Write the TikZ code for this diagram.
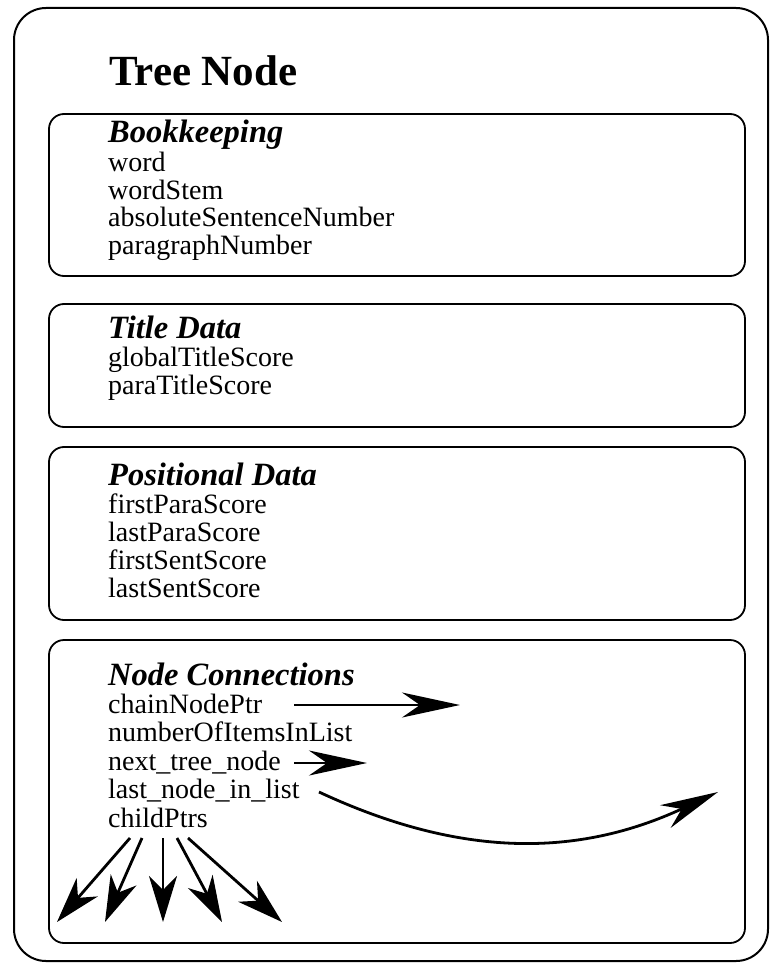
\documentclass[tikz,border=0pt]{standalone}
\usepackage{fontspec}
\setmainfont{Liberation Serif}
\usetikzlibrary{arrows.meta}
\begin{document}
\begin{tikzpicture}[x=1pt,y=-1pt,
  frame/.style={draw, line width=2pt, rounded corners=32pt},
  panel/.style={draw, line width=1.8pt, rounded corners=15pt},
  title/.style={anchor=base west, inner sep=0pt, font=\fontsize{43}{43}\selectfont\bfseries},
  heading/.style={anchor=base west, inner sep=0pt, font=\fontsize{32.5}{32.5}\selectfont\bfseries\itshape},
  field/.style={anchor=base west, inner sep=0pt, font=\fontsize{28}{28}\selectfont},
  ptr/.style={line width=2.8pt, -{Stealth[length=58pt,width=25pt,inset=18pt]}},
  child/.style={line width=2.8pt, -{Stealth[length=46pt,width=28pt,inset=14pt]}},
]
\useasboundingbox (0,0) rectangle (770,965);

% outer record
\draw[frame] (14,8) rectangle (768,961);
\node[title] (tn) at (109,86) {Tree Node};

% field groups
\draw[panel] (49,114) rectangle (745,276);
\draw[panel] (49,304) rectangle (745,427);
\draw[panel] (49,447) rectangle (745,620);
\draw[panel] (49,640) rectangle (745,943);

% Bookkeeping
\node[heading] (bk)  at (108,143) {Bookkeeping};
\node[field]   (bk1) at (108,172) {word};
\node[field]   (bk2) at (108,200) {wordStem};
\node[field]   (bk3) at (108,227) {absoluteSentenceNumber};
\node[field]   (bk4) at (108,255) {paragraphNumber};

% Title Data
\node[heading] (td)  at (108,338) {Title Data};
\node[field]   (td1) at (108,366) {globalTitleScore};
\node[field]   (td2) at (108,394) {paraTitleScore};

% Positional Data
\node[heading] (pd)  at (108,485) {Positional Data};
\node[field]   (pd1) at (108,513) {firstParaScore};
\node[field]   (pd2) at (108,541) {lastParaScore};
\node[field]   (pd3) at (108,569) {firstSentScore};
\node[field]   (pd4) at (108,597) {lastSentScore};

% Node Connections
\node[heading] (nc)  at (108,685) {Node Connections};
\node[field]   (nc1) at (108,713) {chainNodePtr};
\node[field]   (nc2) at (108,741) {numberOfItemsInList};
\node[field]   (nc3) at (108,770) {next\_tree\_node};
\node[field]   (nc4) at (108,798) {last\_node\_in\_list};
\node[field]   (nc5) at (108,827) {childPtrs};

% pointer ends
\coordinate (chainA) at (294,705);
\coordinate (chainB) at (460,705);
\coordinate (nextA)  at (294,763);
\coordinate (nextB)  at (367,763);
\coordinate (lastA)  at (319,792);
\coordinate (lastB)  at (718,792);
\coordinate (c1) at (130,838);  \coordinate (k1) at (57,922);
\coordinate (c2) at (142,838);  \coordinate (k2) at (105,922);
\coordinate (c3) at (163,838);  \coordinate (k3) at (163,922);
\coordinate (c4) at (177,838);  \coordinate (k4) at (222,922);
\coordinate (c5) at (188,838);  \coordinate (k5) at (282,922);

\draw[ptr] (chainA) -- (chainB);
\draw[ptr] (nextA) -- (nextB);
\draw[ptr] (lastA) to[out=-25, in=-155] (lastB);
\foreach \i in {1,...,5} \draw[child] (c\i) -- (k\i);
\end{tikzpicture}
\end{document}
